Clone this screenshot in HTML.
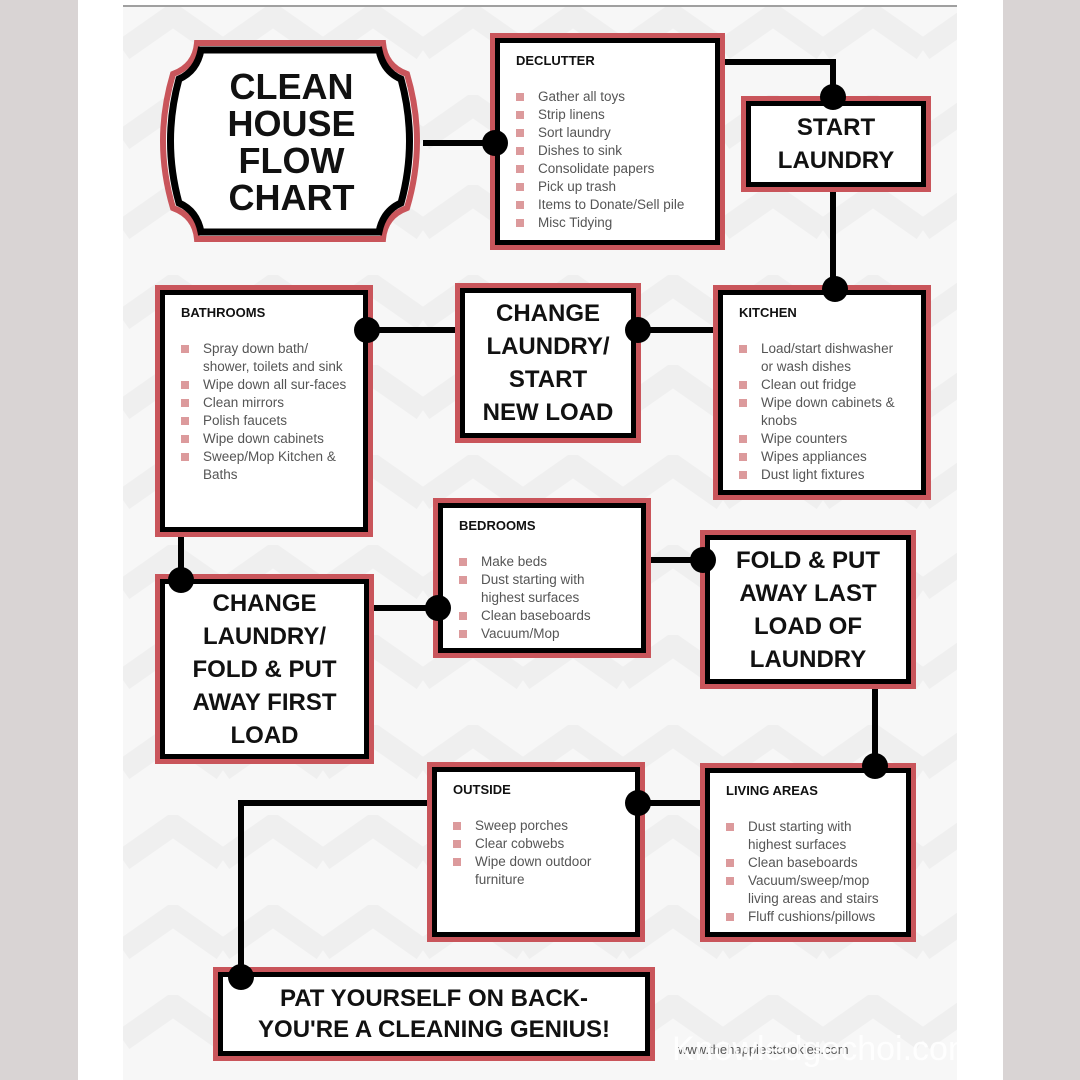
<!DOCTYPE html>
<html><head><meta charset="utf-8"><style>
*{margin:0;padding:0;box-sizing:border-box}
body{width:1080px;height:1080px;background:#d9d4d4;position:relative;overflow:hidden;font-family:"Liberation Sans",sans-serif}
#page{position:absolute;left:78px;top:0;width:925px;height:1080px;background:#fff}
.b{position:absolute;border:5px solid #c9555b;background:#000;padding:5px}
.b>div{width:100%;height:100%;background:#fff}
.lbl{display:flex;align-items:center;justify-content:center;text-align:center;font-weight:bold;font-size:24px;line-height:33px;color:#111}
.lst{padding:9px 14px 0 16px;color:#555;font-size:13.5px;line-height:18px}
.lst h4{font-size:13px;color:#111;margin-bottom:18px;font-weight:bold}
.lst ul{list-style:none}
.lst li{position:relative;padding-left:22px}
.lst li:before{content:"";position:absolute;left:0;top:5px;width:8px;height:8px;background:#dc9a9c}
.l{position:absolute;background:#000}
.d{position:absolute;width:26px;height:26px;border-radius:50%;background:#000}
</style></head><body>
<div id="page"></div>
<svg width="834" height="1075" style="position:absolute;left:123px;top:5px">
<defs><pattern id="z" width="100" height="90" patternUnits="userSpaceOnUse"><rect width="100" height="90" fill="#f7f7f7"/><polyline points="0,45 50,10 100,45" fill="none" stroke="#efefef" stroke-width="22"/></pattern></defs>
<rect width="834" height="1075" fill="url(#z)"/><line x1="0" y1="1" x2="834" y2="1" stroke="#a0a0a0" stroke-width="2"/>
</svg>
<div class="l" style="left:423px;top:140px;width:72px;height:6px"></div>
<div class="l" style="left:725px;top:59px;width:111px;height:6px"></div>
<div class="l" style="left:830px;top:59px;width:6px;height:40px"></div>
<div class="l" style="left:830px;top:192px;width:6px;height:97px"></div>
<div class="l" style="left:641px;top:327px;width:72px;height:6px"></div>
<div class="l" style="left:373px;top:327px;width:82px;height:6px"></div>
<div class="l" style="left:178px;top:537px;width:6px;height:43px"></div>
<div class="l" style="left:374px;top:605px;width:60px;height:6px"></div>
<div class="l" style="left:651px;top:557px;width:50px;height:6px"></div>
<div class="l" style="left:872px;top:689px;width:6px;height:77px"></div>
<div class="l" style="left:645px;top:800px;width:55px;height:6px"></div>
<div class="l" style="left:238px;top:800px;width:189px;height:6px"></div>
<div class="l" style="left:238px;top:800px;width:6px;height:177px"></div>
<svg style="position:absolute;left:155px;top:36px" width="275" height="210">
<path d="M42,7 H228 Q230,30 252,38 Q272,105 252,172 Q230,180 228,203 H42 Q40,180 18,172 Q-2,105 18,38 Q40,30 42,7 Z" fill="#fff" stroke="#c9555b" stroke-width="6"/>
<path d="M46,14 H224 Q228,35 246,43 Q263,105 246,167 Q228,175 224,196 H46 Q42,175 24,167 Q7,105 24,43 Q42,35 46,14 Z" fill="#fff" stroke="#000" stroke-width="7"/>
</svg>
<div class="lbl" style="position:absolute;left:160px;top:64px;width:263px;height:156px;font-size:36px;line-height:37px">CLEAN<br>HOUSE<br>FLOW<br>CHART</div>
<div class="b" style="left:490px;top:33px;width:235px;height:217px"><div class="lst"><h4>DECLUTTER</h4><ul><li>Gather all toys</li><li>Strip linens</li><li>Sort laundry</li><li>Dishes to sink</li><li>Consolidate papers</li><li>Pick up trash</li><li>Items to Donate/Sell pile</li><li>Misc Tidying</li></ul></div></div>
<div class="b" style="left:741px;top:96px;width:190px;height:96px"><div class="lbl">START<br>LAUNDRY</div></div>
<div class="b" style="left:713px;top:285px;width:218px;height:215px"><div class="lst"><h4>KITCHEN</h4><ul><li>Load/start dishwasher or wash dishes</li><li>Clean out fridge</li><li>Wipe down cabinets &amp; knobs</li><li>Wipe counters</li><li>Wipes appliances</li><li>Dust light fixtures</li></ul></div></div>
<div class="b" style="left:455px;top:283px;width:186px;height:160px"><div class="lbl">CHANGE<br>LAUNDRY/<br>START<br>NEW LOAD</div></div>
<div class="b" style="left:155px;top:285px;width:218px;height:252px"><div class="lst"><h4>BATHROOMS</h4><ul><li>Spray down bath/ shower, toilets and sink</li><li>Wipe down all sur-faces</li><li>Clean mirrors</li><li>Polish faucets</li><li>Wipe down cabinets</li><li>Sweep/Mop Kitchen &amp; Baths</li></ul></div></div>
<div class="b" style="left:433px;top:498px;width:218px;height:160px"><div class="lst"><h4>BEDROOMS</h4><ul><li>Make beds</li><li>Dust starting with highest surfaces</li><li>Clean baseboards</li><li>Vacuum/Mop</li></ul></div></div>
<div class="b" style="left:700px;top:530px;width:216px;height:159px"><div class="lbl">FOLD &amp; PUT<br>AWAY LAST<br>LOAD OF<br>LAUNDRY</div></div>
<div class="b" style="left:155px;top:574px;width:219px;height:190px"><div class="lbl">CHANGE<br>LAUNDRY/<br>FOLD &amp; PUT<br>AWAY FIRST<br>LOAD</div></div>
<div class="b" style="left:427px;top:762px;width:218px;height:180px"><div class="lst"><h4>OUTSIDE</h4><ul><li>Sweep porches</li><li>Clear cobwebs</li><li>Wipe down outdoor furniture</li></ul></div></div>
<div class="b" style="left:700px;top:763px;width:216px;height:179px"><div class="lst"><h4>LIVING AREAS</h4><ul><li>Dust starting with highest surfaces</li><li>Clean baseboards</li><li>Vacuum/sweep/mop living areas and stairs</li><li>Fluff cushions/pillows</li></ul></div></div>
<div class="b" style="left:213px;top:967px;width:442px;height:94px"><div class="lbl" style="font-size:24px;line-height:31px">PAT YOURSELF ON BACK-<br>YOU'RE A CLEANING GENIUS!</div></div>
<div class="d" style="left:482px;top:130px"></div>
<div class="d" style="left:820px;top:84px"></div>
<div class="d" style="left:822px;top:276px"></div>
<div class="d" style="left:625px;top:317px"></div>
<div class="d" style="left:354px;top:317px"></div>
<div class="d" style="left:168px;top:567px"></div>
<div class="d" style="left:425px;top:595px"></div>
<div class="d" style="left:690px;top:547px"></div>
<div class="d" style="left:862px;top:753px"></div>
<div class="d" style="left:625px;top:790px"></div>
<div class="d" style="left:228px;top:964px"></div>
<div style="position:absolute;left:678px;top:1042px;font-size:13px;color:#555">www.thehappiestcookies.com</div>
<div style="position:absolute;left:672px;top:1030px;font-size:34px;color:rgba(255,255,255,0.85)">Knowledgechoi.com</div>
</body></html>
